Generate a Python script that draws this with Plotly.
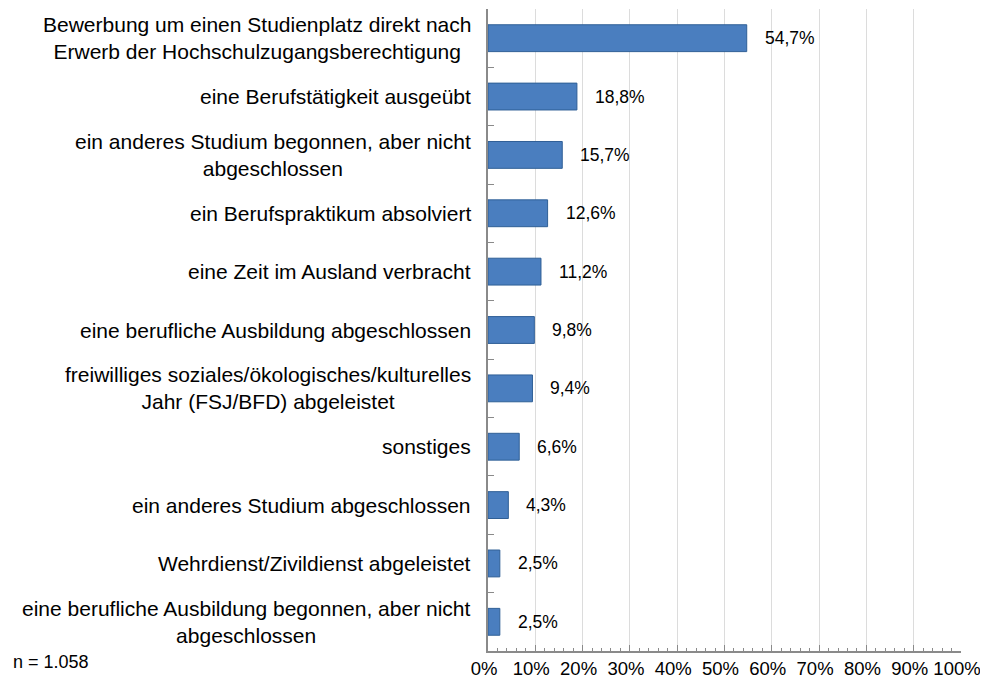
"""Horizontal bar chart: activities before starting the study programme."""

import plotly.graph_objects as go

categories = [
    'Bewerbung um einen Studienplatz direkt nach<br>Erwerb der Hochschulzugangsberechtigung',
    'eine Berufstätigkeit ausgeübt',
    'ein anderes Studium begonnen, aber nicht<br>abgeschlossen',
    'ein Berufspraktikum absolviert',
    'eine Zeit im Ausland verbracht',
    'eine berufliche Ausbildung abgeschlossen',
    'freiwilliges soziales/ökologisches/kulturelles<br>Jahr (FSJ/BFD) abgeleistet',
    'sonstiges',
    'ein anderes Studium abgeschlossen',
    'Wehrdienst/Zivildienst abgeleistet',
    'eine berufliche Ausbildung begonnen, aber nicht<br>abgeschlossen',
]
values = [54.7, 18.8, 15.7, 12.6, 11.2, 9.8, 9.4, 6.6, 4.3, 2.5, 2.5]
tick_values = list(range(0, 101, 10))
tick_labels = [f'{v}%' for v in tick_values]
note = 'n = 1.058'

FONT = 'Liberation Sans, Arial, sans-serif'
AXIS_GREY = '#8a8a8a'

# page body has an 8px margin, so the figure is a bit smaller than the window
W, H = 976, 672
M_L, M_R, M_T, M_B = 480, 22.5, 1, 29

fig = go.Figure()
fig.add_trace(go.Bar(
    x=values,
    y=categories,
    orientation='h',
    marker=dict(color='#4A7EBF', line=dict(color='#2F5F96', width=1)),
    hoverinfo='x+y',
))

annotations = []
for cat, val in zip(categories, values):
    # value label to the right of each bar
    annotations.append(dict(
        x=val, y=cat, xref='x', yref='y',
        text=f'{val:.1f}%'.replace('.', ','),
        showarrow=False, xanchor='left', yanchor='middle', xshift=16,
        font=dict(family=FONT, size=17.5, color='#000000'),
    ))
    # category label, lines centred, block right-aligned to the axis
    annotations.append(dict(
        x=0, y=cat, xref='paper', yref='y',
        text=cat, align='center',
        showarrow=False, xanchor='right', yanchor='middle', xshift=-15,
        font=dict(family=FONT, size=21, color='#000000'),
    ))

plot_w, plot_h = W - M_L - M_R, H - M_T - M_B
annotations.append(dict(
    x=(2 - M_L) / plot_w, y=(H - M_B - 654) / plot_h,
    xref='paper', yref='paper', text=note,
    showarrow=False, xanchor='left', yanchor='middle',
    font=dict(family=FONT, size=18, color='#000000'),
))

fig.update_layout(
    width=W,
    height=H,
    margin=dict(l=M_L, r=M_R, t=M_T, b=M_B, autoexpand=False),
    paper_bgcolor='white',
    plot_bgcolor='white',
    bargap=0.54,
    showlegend=False,
    font=dict(family=FONT, color='#000000'),
    annotations=annotations,
)
fig.update_xaxes(
    range=[0, 100],
    tickvals=tick_values,
    ticktext=tick_labels,
    tickangle=0,
    automargin=False,
    ticklabeloverflow='allow',
    ticklabelshift=-4,
    tickfont=dict(family=FONT, size=18.5, color='#000000'),
    showgrid=True,
    gridcolor='#dcdcdc',
    gridwidth=1,
    showline=True,
    linecolor=AXIS_GREY,
    linewidth=1.5,
    ticks='inside',
    ticklen=6,
    tickcolor=AXIS_GREY,
    minor=dict(dtick=2, ticks='inside', ticklen=3, tickcolor=AXIS_GREY, showgrid=False),
    zeroline=False,
    fixedrange=True,
)
fig.update_yaxes(
    autorange='reversed',
    automargin=False,
    showticklabels=False,
    showline=True,
    linecolor=AXIS_GREY,
    linewidth=1.5,
    ticks='inside',
    tickson='boundaries',
    ticklen=6,
    tickcolor=AXIS_GREY,
    showgrid=False,
    fixedrange=True,
)

fig.write_html('out.html')
